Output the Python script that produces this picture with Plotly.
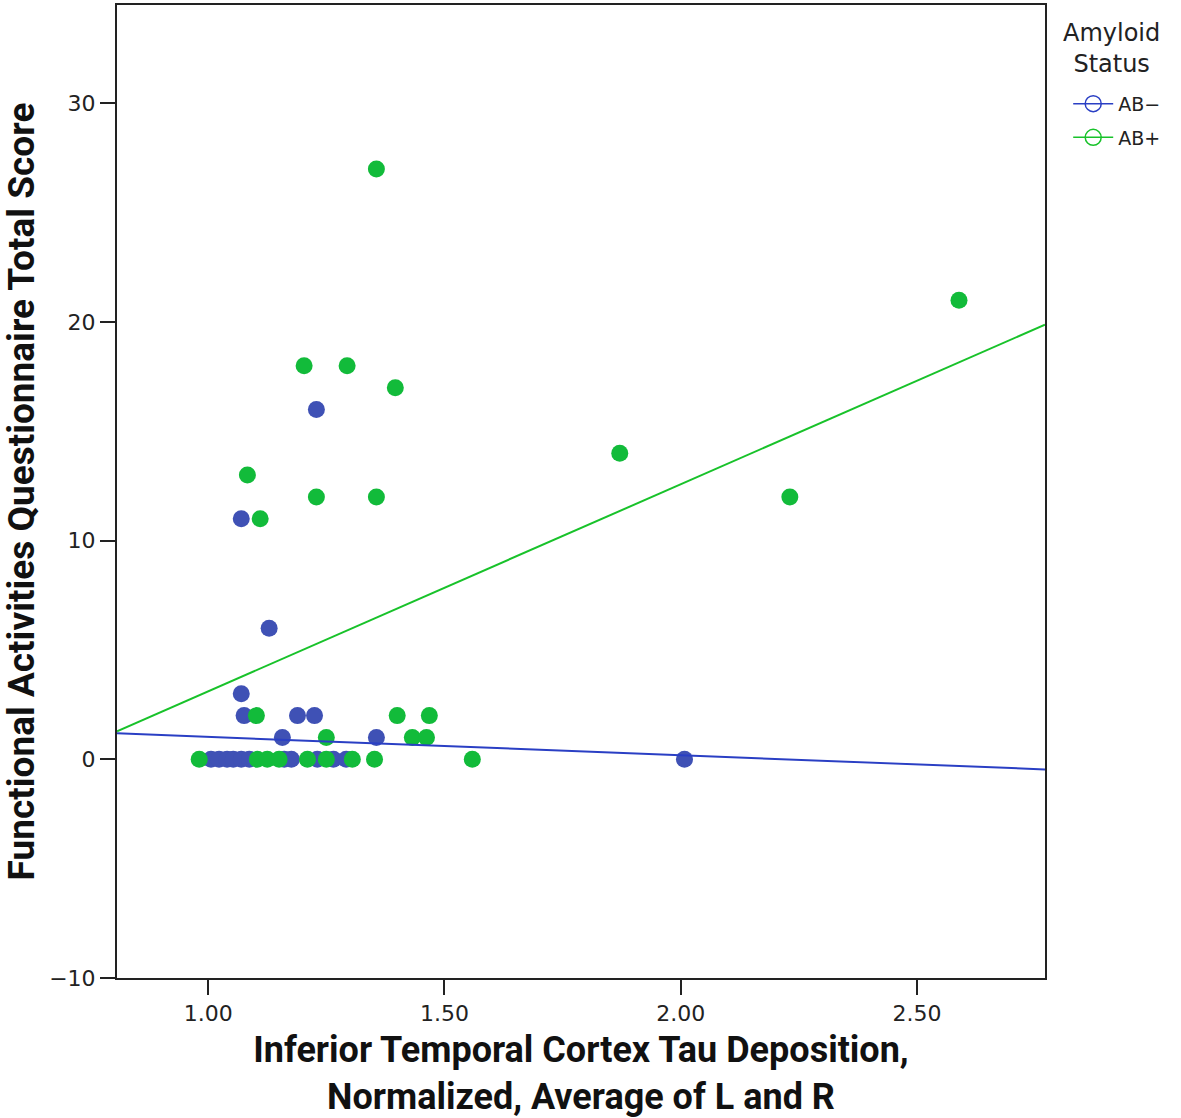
import plotly.graph_objects as go

# ---- data ----
neg_x = [1.006, 1.023, 1.040, 1.053, 1.070, 1.087, 1.161, 1.176, 1.231, 1.265, 1.292, 2.008,
         1.157, 1.356,
         1.076, 1.189, 1.225,
         1.070, 1.129, 1.070, 1.229]
neg_y = [0, 0, 0, 0, 0, 0, 0, 0, 0, 0, 0, 0,
         1, 1,
         2, 2, 2,
         3, 6, 11, 16]

pos_x = [0.981, 1.104, 1.125, 1.150, 1.210, 1.250, 1.305, 1.352, 1.559,
         1.250, 1.432, 1.462,
         1.102, 1.400, 1.468,
         1.110, 1.083, 1.229, 1.356, 1.396, 1.203, 1.294, 1.356,
         1.871, 2.231, 2.589]
pos_y = [0, 0, 0, 0, 0, 0, 0, 0, 0,
         1, 1, 1,
         2, 2, 2,
         11, 13, 12, 12, 17, 18, 18, 27,
         14, 12, 21]

# fitted regression lines (slope, intercept) per group
neg_fit = (-0.840, 1.868)
pos_fit = (9.47, -6.36)

x_range = [0.807, 2.771]
y_range = [-10, 34.5]
x_ticks = [1.0, 1.5, 2.0, 2.5]
x_ticklabels = ["1.00", "1.50", "2.00", "2.50"]
y_ticks = [-10, 0, 10, 20, 30]

blue = "#3f51b5"
green = "#12bb3a"
blue_line = "#2a3fc4"
green_line = "#18c22a"

fig = go.Figure()

fig.add_trace(go.Scatter(x=neg_x, y=neg_y, mode="markers",
                         marker=dict(color=blue, size=17, line=dict(width=0)),
                         showlegend=False))
fig.add_trace(go.Scatter(x=pos_x, y=pos_y, mode="markers",
                         marker=dict(color=green, size=17, line=dict(width=0)),
                         showlegend=False))

for (m, b), col in [(neg_fit, blue_line), (pos_fit, green_line)]:
    fig.add_trace(go.Scatter(x=x_range, y=[m * x_range[0] + b, m * x_range[1] + b],
                             mode="lines", line=dict(color=col, width=2),
                             showlegend=False))

# legend entries
for name, col in [("AB\u2212", blue_line), ("AB+", green_line)]:
    fig.add_trace(go.Scatter(x=[None], y=[None], mode="lines+markers", name=name,
                             legendgroup=name,
                             line=dict(color=col, width=1.5),
                             marker=dict(symbol="circle-open", size=18, color=col,
                                         line=dict(width=1.5))))

axis_common = dict(showline=True, linecolor="#222", linewidth=2, mirror=True,
                   ticks="outside", ticklen=15, tickwidth=2, tickcolor="#222",
                   showgrid=False, zeroline=False,
                   tickfont=dict(family="DejaVu Sans", size=22, color="#222"))

fig.update_xaxes(range=x_range, tickvals=x_ticks, ticktext=x_ticklabels,
                 title=dict(text="<b>Inferior Temporal Cortex Tau Deposition,<br>Normalized, Average of L and R</b>",
                            font=dict(family="Roboto", size=36, color="#111"), standoff=12),
                 **axis_common)
fig.update_yaxes(range=y_range, tickvals=y_ticks,
                 title=dict(text="<b>Functional Activities Questionnaire Total Score</b>",
                            font=dict(family="Roboto", size=37, color="#111"), standoff=20),
                 **axis_common)

fig.add_annotation(text="Amyloid<br>Status", xref="paper", yref="paper",
                   x=1.072, y=0.988, xanchor="center", yanchor="top", showarrow=False,
                   align="center", font=dict(family="DejaVu Sans", size=24, color="#222"))

fig.update_layout(
    width=1181, height=1118,
    margin=dict(l=117, r=136, t=3, b=140),
    paper_bgcolor="white", plot_bgcolor="white",
    legend=dict(x=1.025, y=0.918, xanchor="left", yanchor="top",
                font=dict(family="DejaVu Sans", size=19, color="#222"),
                itemwidth=40, tracegroupgap=6, bgcolor="rgba(0,0,0,0)"),
)

fig.write_html("out.html", config={"displayModeBar": False},
               post_script="document.body.style.margin='0';document.body.style.overflow='hidden';")
